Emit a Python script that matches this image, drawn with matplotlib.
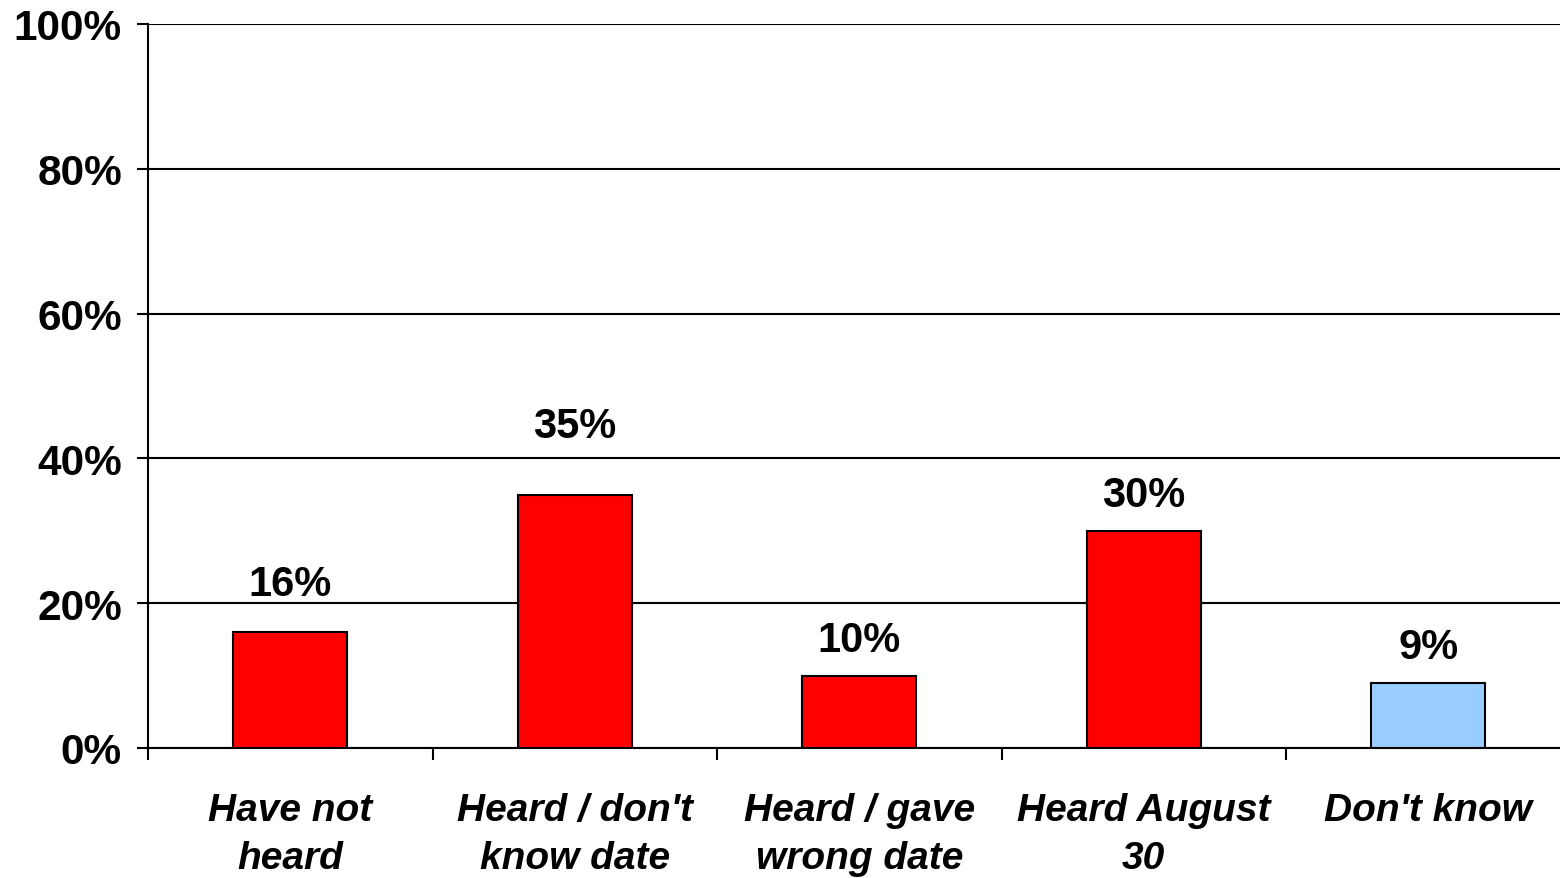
import matplotlib
matplotlib.use('Agg')
import numpy as np
import matplotlib.pyplot as plt

plt.rcParams['font.family'] = ['Liberation Sans', 'DejaVu Sans']

# survey answers
categories = ["Have not\nheard", "Heard / don't\nknow date", "Heard / gave\nwrong date",
              "Heard August\n30", "Don't know"]
values = [16, 35, 10, 30, 9]
bar_colors = ['#FF0000', '#FF0000', '#FF0000', '#FF0000', '#99CCFF']
y_ticks = [0, 20, 40, 60, 80, 100]
# distance of each value label above its bar (points)
label_offsets = [26.5, 41.5, 18, 18, 18]

fig = plt.figure(figsize=(15.6, 8.79), dpi=100)
ax = fig.add_axes([148 / 1560, 130 / 879, 1422.5 / 1560, 724 / 879])

x = np.arange(len(categories))
ax.bar(x, values, width=0.4, color=bar_colors, edgecolor='black', linewidth=1.5, zorder=3)

for xi, v, off in zip(x, values, label_offsets):
    ax.annotate(f'{v}%', (xi, v), xytext=(0, off), textcoords='offset points',
                ha='center', va='baseline', fontsize=30, fontweight='bold')

ax.set_xlim(-0.5, len(categories) - 0.5)
ax.set_ylim(0, 100)
ax.set_yticks(y_ticks)
ax.set_yticklabels([f'{t}%' for t in y_ticks], fontsize=30.5, fontweight='bold')
ax.set_xticks(x)
ax.set_xticklabels(categories, fontsize=28, fontweight='bold', style='italic',
                   linespacing=1.42)
ax.set_xticks(np.arange(len(categories) + 1) - 0.5, minor=True)

ax.yaxis.grid(True, color='black', linewidth=1.5, zorder=0)
ax.set_axisbelow(True)
for s in ['top', 'right']:
    ax.spines[s].set_visible(False)
for s in ['left', 'bottom']:
    ax.spines[s].set_linewidth(1.5)
ax.tick_params(axis='y', length=8, width=1.5, pad=10.8)
ax.tick_params(axis='x', which='major', length=0, pad=32)
ax.tick_params(axis='x', which='minor', length=8.5, width=1.5)

fig.savefig('out.png', dpi=100)
